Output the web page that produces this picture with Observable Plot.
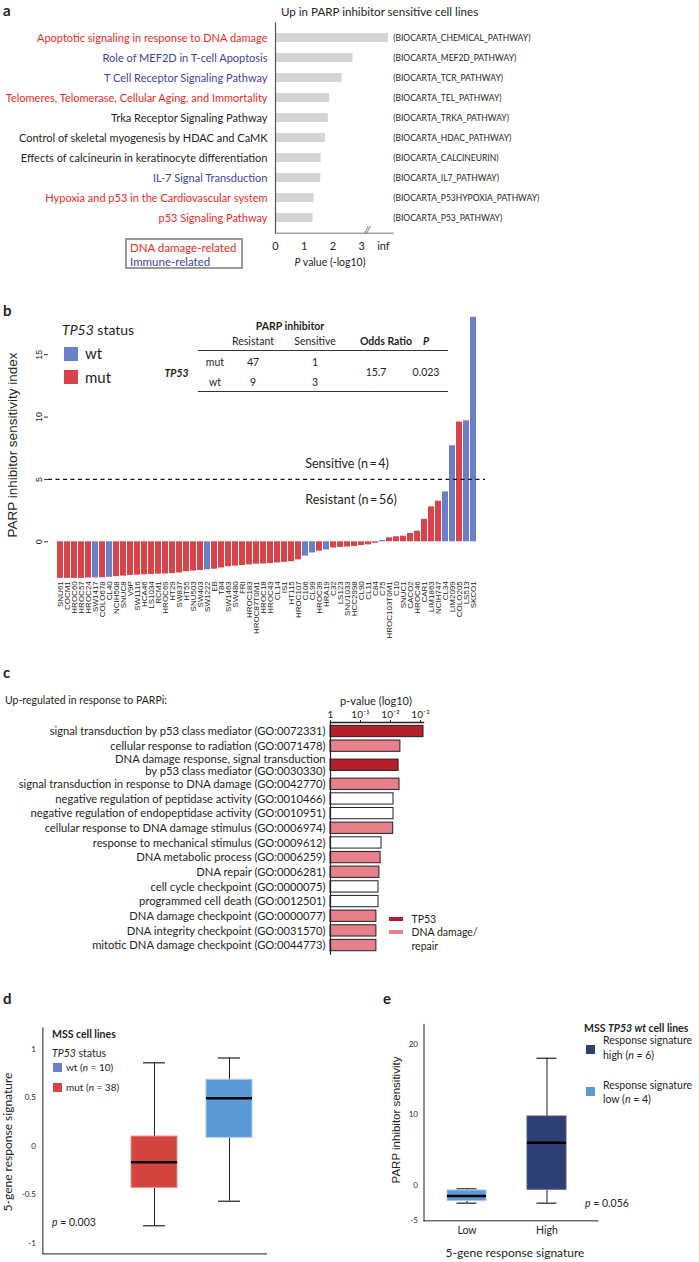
<!DOCTYPE html>
<html><head><meta charset="utf-8">
<script src="https://cdn.jsdelivr.net/npm/d3@7"></script>
<script src="https://cdn.jsdelivr.net/npm/@observablehq/plot@0.6"></script>
<style>
body{margin:0;background:#fff}
#root{position:relative;width:699px;height:1262px;overflow:hidden;font-family:Lato,"Open Sans",sans-serif;color:#231f20}
.t{position:absolute;white-space:nowrap;line-height:1}
.p{position:absolute}
.sw{position:absolute}
</style></head><body><div id="root"></div>
<script>
// ---------- Panel a data ----------
const pathwayNames = [
  "Apoptotic signaling in response to DNA damage",
  "Role of MEF2D in T-cell Apoptosis",
  "T Cell Receptor Signaling Pathway",
  "Telomeres, Telomerase, Cellular Aging, and Immortality",
  "Trka Receptor Signaling Pathway",
  "Control of skeletal myogenesis by HDAC and CaMK",
  "Effects of calcineurin in keratinocyte differentiation",
  "IL-7 Signal Transduction",
  "Hypoxia and p53 in the Cardiovascular system",
  "p53 Signaling Pathway"
];
const pathwayIds = [
  "(BIOCARTA_CHEMICAL_PATHWAY)","(BIOCARTA_MEF2D_PATHWAY)","(BIOCARTA_TCR_PATHWAY)",
  "(BIOCARTA_TEL_PATHWAY)","(BIOCARTA_TRKA_PATHWAY)","(BIOCARTA_HDAC_PATHWAY)",
  "(BIOCARTA_CALCINEURIN)","(BIOCARTA_IL7_PATHWAY)","(BIOCARTA_P53HYPOXIA_PATHWAY)",
  "(BIOCARTA_P53_PATHWAY)"
];
const pathwayLog10P = [3.93, 2.7, 2.32, 1.89, 1.84, 1.74, 1.59, 1.58, 1.34, 1.31];
const pathwayGroup = ["DNA","Immune","Immune","DNA","Other","Other","Other","Immune","DNA","DNA"];
const aTicks = [0, 1, 2, 3];
const aInfTick = 3.76;

// ---------- Panel b data ----------
const cellLines = ["SNU61","COCM1","HROC60","HROC57","HROC24","SW1417","COLO678","CL40","NCIH508","SNUC8",
  "V9P","SW1116","HCA46","LS1034","RCM1","HROC69","HT29","SW837","HT55","SNU503",
  "SW403","SW1222","EB","T84","SW1463","SW480","FRI","HROC183","HROC87T0M1","HROC18",
  "HROC43","CL14","IS1","HT115","HROC107","C106","CL99","HROC39","HRA19","C32",
  "LS123","SNU1033","HCC2998","CL90","CL11","C84","C75","HROC103T0M1","C10","SNUC1",
  "CACO2","HROC46","CAR1","LIM1863","NCIH747","CL34","LIM2099","COLO205","LS513","SKCO1"];
const sensitivityIndex = [-2.93,-2.93,-2.93,-2.93,-2.9,-2.9,-2.88,-2.85,-2.8,-2.75,
  -2.7,-2.68,-2.65,-2.62,-2.6,-2.58,-2.55,-2.5,-2.4,-2.35,
  -2.3,-2.25,-2.2,-2.1,-2.0,-1.95,-1.9,-1.85,-1.8,-1.78,
  -1.75,-1.7,-1.65,-1.6,-1.45,-1.15,-0.9,-0.75,-0.65,-0.5,
  -0.45,-0.42,-0.38,-0.3,-0.25,-0.12,0.1,0.32,0.4,0.45,
  0.67,0.85,1.8,2.8,3.25,4.0,7.7,9.6,9.7,18];
const tp53Status = ["mut","mut","mut","mut","mut","wt","mut","wt","mut","mut",
  "mut","mut","mut","mut","mut","mut","mut","mut","mut","mut",
  "mut","wt","mut","mut","mut","mut","mut","mut","mut","mut",
  "mut","mut","mut","mut","mut","wt","wt","mut","wt","mut",
  "mut","mut","mut","mut","mut","mut","wt","mut","mut","mut",
  "mut","mut","mut","mut","mut","wt","wt","mut","wt","wt"];
const bTicks = [0, 5, 10, 15];
const sensitiveThreshold = 5;

// ---------- Panel c data ----------
const goTerms = [
  "signal transduction by p53 class mediator (GO:0072331)",
  "cellular response to radiation (GO:0071478)",
  "DNA damage response, signal transduction\nby p53 class mediator (GO:0030330)",
  "signal transduction in response to DNA damage (GO:0042770)",
  "negative regulation of peptidase activity (GO:0010466)",
  "negative regulation of endopeptidase activity (GO:0010951)",
  "cellular response to DNA damage stimulus (GO:0006974)",
  "response to mechanical stimulus (GO:0009612)",
  "DNA metabolic process (GO:0006259)",
  "DNA repair (GO:0006281)",
  "cell cycle checkpoint (GO:0000075)",
  "programmed cell death (GO:0012501)",
  "DNA damage checkpoint (GO:0000077)",
  "DNA integrity checkpoint (GO:0031570)",
  "mitotic DNA damage checkpoint (GO:0044773)"
];
const goLog10P = [3.1, 2.33, 2.27, 2.3, 2.1, 2.1, 2.09, 1.7, 1.67, 1.63, 1.6, 1.6, 1.53, 1.53, 1.53];
const goCategory = ["TP53","DNA","TP53","DNA","Other","Other","DNA","Other","DNA","DNA","Other","Other","DNA","DNA","DNA"];
const cTicks = [0, 1, 2, 3];
const cTickLabels = ["1", "10\u207B\u00B9", "10\u207B\u00B2", "10\u207B\u00B3"];

// ---------- Panel d data ----------
const dGroups = ["mut", "wt"];
const dLow = [-0.82, -0.567];
const dQ1 = [-0.43, 0.087];
const dMedian = [-0.165, 0.495];
const dQ3 = [0.10, 0.685];
const dHigh = [0.86, 0.91];
const dTicks = [-1, -0.5, 0, 0.5, 1];

// ---------- Panel e data ----------
const eGroups = ["Low", "High"];
const eLow = [-2.5, -2.5];
const eQ1 = [-2.2, -0.6];
const eMedian = [-1.5, 6.04];
const eQ3 = [-0.7, 9.76];
const eHigh = [-0.47, 18.0];
const eTicks = [-5, 0, 10, 20];

// ---------- colours ----------
const RED_A = "#ec2b25", BLUE_A = "#3d44a3";
const WT_B = "#6a7fc7", MUT_B = "#d9434a";

const root = document.getElementById("root");
function place(node, left, top) {
  node.classList.add("p");
  node.style.left = left + "px";
  node.style.top = top + "px";
  root.appendChild(node);
}
function txt(html, x, y, opts = {}) {
  const d = document.createElement("div");
  d.className = "t";
  d.innerHTML = html;
  const a = opts.anchor || "start";
  const tx = a === "middle" ? "-50%" : a === "end" ? "-100%" : "0";
  d.style.left = x + "px";
  d.style.top = y + "px";
  d.style.transform = `translate(${tx},-50%)`;
  if (opts.rotate) { d.style.transformOrigin = "0 0"; d.style.transform = `rotate(${opts.rotate}deg) translate(-50%,-50%)`; }
  d.style.fontSize = (opts.size || 10) + "px";
  if (opts.weight) d.style.fontWeight = opts.weight;
  if (opts.color) d.style.color = opts.color;
  if (opts.font) d.style.fontFamily = opts.font;
  root.appendChild(d);
  return d;
}
function box(x, y, w, h, style) {
  const d = document.createElement("div");
  d.className = "sw";
  Object.assign(d.style, {left: x + "px", top: y + "px", width: w + "px", height: h + "px"}, style);
  root.appendChild(d);
}

// ================= Panel a =================
const aData = pathwayNames.map((name, i) => ({name, id: pathwayIds[i], v: pathwayLog10P[i], g: pathwayGroup[i]}));
const plotA = Plot.plot({
  width: 699, height: 280,
  marginLeft: 275, marginRight: 306.3, marginTop: 22.3, marginBottom: 47.3,
  x: {domain: [0, 4.1]},
  y: {type: "band", domain: pathwayNames, paddingInner: 0.55, paddingOuter: 0.449, axis: null},
  color: {domain: ["DNA", "Immune", "Other"], range: [RED_A, BLUE_A, "#231f20"]},
  style: {fontFamily: "Lato, sans-serif", fontSize: "11px", color: "#231f20", overflow: "visible"},
  marks: [
    Plot.barX(aData, {x: "v", y: "name", fill: "#d4d4d4"}),
    Plot.text(aData, {x: 0, y: "name", text: "name", fill: "g", textAnchor: "end", dx: -8, fontSize: 11}),
    Plot.text(aData, {x: 4.1, y: "name", text: "id", textAnchor: "start", dx: 0, fontSize: 8.5, fill: "#231f20"}),
    Plot.frame({anchor: "left", stroke: "#555", strokeWidth: 1.2}),
    Plot.frame({anchor: "bottom", stroke: "#777", strokeWidth: 1}),
    Plot.axisX({ticks: [...aTicks, aInfTick], tickFormat: d => d === aInfTick ? "inf" : String(d), tickSize: 0, tickPadding: 9, fontSize: 11, label: null}),
    Plot.text(["//"], {x: 3.2, frameAnchor: "bottom", text: d => d, fontSize: 10, fill: "#666", fontStyle: "italic"})
  ]
});
place(plotA, 0, 0);

txt("a", 3, 10, {size: 15, weight: 700});
txt("Up in PARP inhibitor sensitive cell lines", 281, 12, {size: 11.6});
box(125, 238, 118, 31, {border: "2px solid #9a9a9a", boxSizing: "border-box"});
txt("DNA damage-related", 130, 248, {size: 11.5, color: RED_A});
txt("Immune-related", 130, 262, {size: 11.5, color: BLUE_A});
txt("<i>P</i> value (-log10)", 330, 261.5, {size: 10.5, anchor: "middle"});

// ================= Panel b =================
const bData = cellLines.map((name, i) => ({name, v: sensitivityIndex[i], s: tp53Status[i]}));
const plotB = Plot.plot({
  width: 500, height: 345,
  marginLeft: 48, marginRight: 15, marginTop: 16.8, marginBottom: 66.3,
  x: {type: "band", domain: cellLines, range: [53.9, 478.3], paddingInner: 0.14, paddingOuter: 0.07},
  y: {domain: [-3, 18]},
  color: {domain: ["wt", "mut"], range: [WT_B, MUT_B]},
  style: {fontFamily: "Liberation Sans, Arial, sans-serif", fontSize: "8px", color: "#222", overflow: "visible"},
  marks: [
    Plot.barY(bData, {x: "name", y: "v", fill: "s"}),
    Plot.ruleY([sensitiveThreshold], {stroke: "#111", strokeWidth: 1.3, strokeDasharray: "4,3.5"}),
    Plot.ruleX({length: 1}, {y1: 0, y2: 15, dx: 48 - (48 + 485) / 2, stroke: "#333", strokeWidth: 1.5}),
    Plot.axisY({ticks: bTicks, tickFormat: d => String(d), tickSize: 4, tickPadding: 3, tickRotate: -90, fontSize: 9, label: null, stroke: "#333"}),
    Plot.axisX({tickSize: 0, tickPadding: 2, tickRotate: -90, fontSize: 8, label: null})
  ]
});
place(plotB, 0, 300);

txt("b", 3, 310, {size: 15, weight: 700});
txt("PARP inhibitor sensitivity index", 13, 445, {size: 13.5, rotate: -90, font: "Liberation Sans, Arial, sans-serif"});
txt("<i>TP53</i> status", 62, 330, {size: 14});
box(64, 347, 14, 14, {background: WT_B});
box(64, 370, 14, 14, {background: MUT_B});
txt("wt", 85, 353, {size: 15});
txt("mut", 85, 377, {size: 15});
txt("<b>PARP inhibitor</b>", 290, 326, {size: 10.5, anchor: "middle"});
txt("Resistant", 253, 341, {size: 10.5, anchor: "middle"});
txt("Sensitive", 315, 341, {size: 10.5, anchor: "middle"});
txt("<b>Odds Ratio</b>", 386, 341, {size: 10.5, anchor: "middle"});
txt("<b><i>P</i></b>", 426, 341, {size: 10.5, anchor: "middle"});
box(198, 349.5, 250, 1.3, {background: "#333"});
box(198, 390.5, 250, 1.3, {background: "#333"});
txt("mut", 215, 362, {size: 10.5, anchor: "middle"});
txt("47", 253, 362, {size: 10.5, anchor: "middle"});
txt("1", 315, 362, {size: 10.5, anchor: "middle"});
txt("wt", 215, 382, {size: 10.5, anchor: "middle"});
txt("9", 253, 382, {size: 10.5, anchor: "middle"});
txt("3", 315, 382, {size: 10.5, anchor: "middle"});
txt("<b><i>TP53</i></b>", 176.5, 372.5, {size: 10.5, anchor: "middle"});
txt("15.7", 376, 372, {size: 10.5, anchor: "middle"});
txt("0.023", 426, 372, {size: 10.5, anchor: "middle"});
txt("Sensitive (n\u2009=\u20094)", 347, 464, {size: 12.5, anchor: "middle"});
txt("Resistant (n\u2009=\u200956)", 351, 500, {size: 12.5, anchor: "middle"});

// ================= Panel c =================
// row positions derived from label line counts: a two-line label takes extra room
let cPos = 0;
const cData = goTerms.map((term, i) => {
  const extra = (term.split("\n").length - 1) * 0.3;
  cPos += extra;
  const row = {term, v: goLog10P[i], c: goCategory[i], pos: cPos};
  cPos += extra + 1;
  return row;
});
const cLast = cData[cData.length - 1].pos;
const cHalf = 0.385;
const plotC = Plot.plot({
  width: 699, height: 270,
  marginLeft: 330, marginRight: 276, marginTop: 32, marginBottom: 6.3,
  x: {domain: [0, 3.1]},
  y: {domain: [-0.614, cLast + 0.59], reverse: true, axis: null},
  color: {domain: ["TP53", "DNA", "Other"], range: ["#b41f2a", "#e8808c", "#ffffff"]},
  style: {fontFamily: "Lato, sans-serif", fontSize: "10px", color: "#231f20", overflow: "visible"},
  marks: [
    Plot.rectX(cData, {x1: 0, x2: "v", y1: d => d.pos - cHalf, y2: d => d.pos + cHalf, fill: "c", stroke: "#231f20", strokeWidth: 1}),
    Plot.text(cData, {x: 0, y: "pos", text: "term", textAnchor: "end", dx: -5, fontSize: 11.2, lineHeight: 1.02, fill: "#231f20"}),
    Plot.frame({anchor: "left", stroke: "#231f20", strokeWidth: 1.2}),
    Plot.frame({anchor: "top", stroke: "#231f20", strokeWidth: 1.5}),
    Plot.axisX({anchor: "top", ticks: cTicks, tickFormat: d => cTickLabels[cTicks.indexOf(d)], tickSize: 3, tickPadding: 2, fontSize: 10, label: null})
  ]
});
place(plotC, 0, 690);

txt("c", 3, 672, {size: 15, weight: 700});
txt("Up-regulated in response to PARPi:", 5, 700, {size: 10.5});
txt("p-value (log10)", 376, 700, {size: 11, anchor: "middle"});
box(389, 917, 13.5, 4, {background: "#b41f2a"});
box(389, 930, 13.5, 4, {background: "#e8808c"});
txt("TP53", 411.5, 919, {size: 10.5});
txt("DNA damage/", 411.5, 932, {size: 10.5});
txt("repair", 411.5, 946, {size: 10.5});

// ================= Panel d =================
const dData = dGroups.map((g, i) => ({g, lo: dLow[i], q1: dQ1[i], med: dMedian[i], q3: dQ3[i], hi: dHigh[i]}));
const D_RED = "#d4453f", D_BLUE = "#5b9bd5";
const plotD = Plot.plot({
  width: 290, height: 262,
  marginLeft: 42.4, marginRight: 24, marginTop: 27.4, marginBottom: 8.6,
  x: {type: "band", domain: dGroups, paddingInner: 0.392, paddingOuter: 0.673, align: 0.863},
  y: {domain: [-1.11, 1.22]},
  color: {domain: dGroups, range: [D_RED, D_BLUE]},
  style: {fontFamily: "Lato, sans-serif", fontSize: "8px", color: "#231f20", overflow: "visible"},
  marks: [
    Plot.ruleX(dData, {x: "g", y1: "lo", y2: "hi", stroke: "#231f20", strokeWidth: 1}),
    Plot.tickY(dData, {x: "g", y: "lo", insetLeft: 12, insetRight: 12, stroke: "#231f20", strokeWidth: 1.2}),
    Plot.tickY(dData, {x: "g", y: "hi", insetLeft: 12, insetRight: 12, stroke: "#231f20", strokeWidth: 1.2}),
    Plot.barY(dData, {x: "g", y1: "q1", y2: "q3", fill: "g", stroke: d => d.g === "mut" ? "#e9908c" : "#a9c9ec", strokeWidth: 1}),
    Plot.tickY(dData, {x: "g", y: "med", stroke: "#000", strokeWidth: 2.5}),
    Plot.frame({anchor: "left", stroke: "#231f20", strokeWidth: 1}),
    Plot.frame({anchor: "bottom", stroke: "#231f20", strokeWidth: 1}),
    Plot.axisY({ticks: dTicks, tickFormat: d => String(d), tickSize: 0, tickPadding: 7, fontSize: 8, label: null}),
    Plot.axisX({ticks: [], label: null})
  ]
});
place(plotD, 0, 1000);

txt("d", 3, 998, {size: 15, weight: 700});
txt("<b>MSS cell lines</b>", 52, 1034, {size: 10.5});
txt("<i>TP53</i> status", 52, 1053, {size: 10.5});
box(53, 1062.5, 9, 9, {background: WT_B});
box(53, 1082.5, 9, 9, {background: MUT_B});
txt("wt (<i>n</i> = 10)", 66, 1067, {size: 10});
txt("mut (<i>n</i> = 38)", 66, 1087, {size: 10});
txt("<i>p</i> = 0.003", 52, 1221.5, {size: 10.5});
txt("5-gene response signature", 8, 1142, {size: 12, rotate: -90});

// ================= Panel e =================
const eData = eGroups.map((g, i) => ({g, lo: eLow[i], q1: eQ1[i], med: eMedian[i], q3: eQ3[i], hi: eHigh[i]}));
const E_NAVY = "#2e3f73", E_LIGHT = "#5b9bd5";
const plotE = Plot.plot({
  width: 319, height: 262,
  marginLeft: 43.5, marginRight: 101.6, marginTop: 23.8, marginBottom: 41.65,
  x: {type: "band", domain: eGroups, paddingInner: 0.5125, paddingOuter: 0.343, align: 0.432},
  y: {domain: [-5, 22.8]},
  color: {domain: eGroups, range: [E_LIGHT, E_NAVY]},
  style: {fontFamily: "Lato, sans-serif", fontSize: "8px", color: "#231f20", overflow: "visible"},
  marks: [
    Plot.ruleX(eData, {x: "g", y1: "lo", y2: "hi", stroke: "#231f20", strokeWidth: 1}),
    Plot.tickY(eData, {x: "g", y: "lo", insetLeft: 9.5, insetRight: 9.5, stroke: "#231f20", strokeWidth: 1.2}),
    Plot.tickY(eData, {x: "g", y: "hi", insetLeft: 9.5, insetRight: 9.5, stroke: "#231f20", strokeWidth: 1.2}),
    Plot.barY(eData, {x: "g", y1: "q1", y2: "q3", fill: "g", stroke: d => d.g === "Low" ? "#a9c9ec" : "#4a5a8c", strokeWidth: 1}),
    Plot.tickY(eData, {x: "g", y: "med", stroke: "#000", strokeWidth: 2.5}),
    Plot.frame({anchor: "left", stroke: "#231f20", strokeWidth: 1}),
    Plot.frame({anchor: "bottom", stroke: "#231f20", strokeWidth: 1}),
    Plot.axisY({ticks: eTicks, tickFormat: d => String(d), tickSize: 0, tickPadding: 6, fontSize: 8, label: null}),
    Plot.axisX({tickSize: 0, tickPadding: 6, fontSize: 10.5, label: null})
  ]
});
place(plotE, 380, 1000);

txt("e", 383, 998, {size: 15, weight: 700});
txt("<b>MSS <i>TP53 wt</i> cell lines</b>", 584, 1028, {size: 10.5});
box(586, 1045, 9, 9, {background: E_NAVY});
box(586, 1087, 9, 9, {background: E_LIGHT});
txt("Response signature", 603, 1040, {size: 10.5});
txt("high (<i>n</i> = 6)", 603, 1055, {size: 10.5});
txt("Response signature", 603, 1085, {size: 10.5});
txt("low (<i>n</i> = 4)", 603, 1099, {size: 10.5});
txt("<i>p</i> = 0.056", 585, 1203, {size: 10.5});
txt("5-gene response signature", 515, 1253, {size: 12, anchor: "middle"});
txt("PARP inhibitor sensitivity", 397, 1120, {size: 11.5, rotate: -90, font: "Liberation Sans, Arial, sans-serif"});
</script></body></html>
